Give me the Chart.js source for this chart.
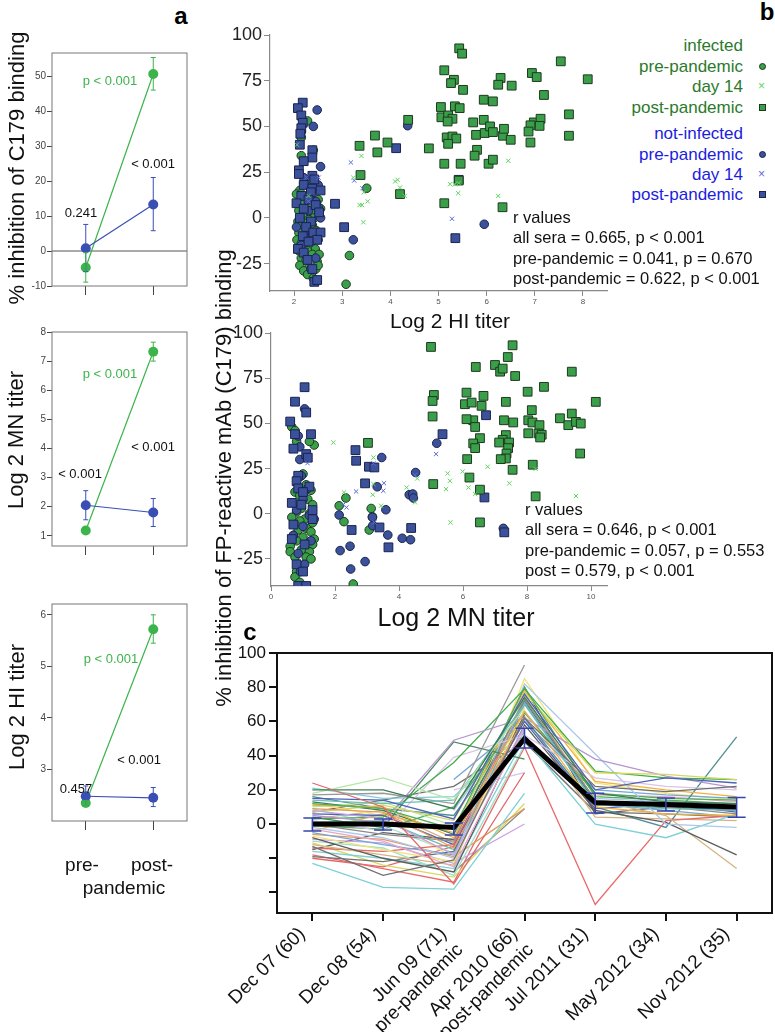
<!DOCTYPE html>
<html><head><meta charset="utf-8">
<script src="https://cdn.jsdelivr.net/npm/chart.js@4/dist/chart.umd.min.js"></script>
<style>
body{margin:0;width:775px;height:1032px;position:relative;background:#fff;font-family:"Liberation Sans",Arial,sans-serif;overflow:hidden}
canvas{position:absolute}
.t{position:absolute;white-space:nowrap;line-height:1}
</style></head><body>
<canvas id="a1" width="200" height="270" style="left:0;top:40px"></canvas>
<canvas id="a2" width="200" height="255" style="left:0;top:315px"></canvas>
<canvas id="a3" width="200" height="260" style="left:0;top:585px"></canvas>
<canvas id="b1" width="400" height="300" style="left:220px;top:20px"></canvas>
<canvas id="b2" width="400" height="300" style="left:220px;top:320px"></canvas>
<canvas id="c1" width="575" height="412" style="left:200px;top:620px"></canvas>
<script>
// ─── DATA: panel a (group means with error bars) ───────────────────
const A_GROUPS=['pre-pandemic','post-pandemic'];
const INH_NOT=[0.8,13.3],  INH_NOT_LO=[-5.9,5.8],  INH_NOT_HI=[7.6,21];
const INH_INF=[-4.7,50.6], INH_INF_LO=[-8.9,46],   INH_INF_HI=[-0.5,55.3];
const MN_NOT=[2.05,1.8],   MN_NOT_LO=[1.55,1.32],  MN_NOT_HI=[2.55,2.28];
const MN_INF=[1.18,7.32],  MN_INF_LO=[1.08,7.0],   MN_INF_HI=[1.28,7.65];
const HI_NOT=[2.48,2.45],  HI_NOT_LO=[2.3,2.28],   HI_NOT_HI=[2.68,2.65];
const HI_INF=[2.35,5.72],  HI_INF_LO=[2.3,5.45],   HI_INF_HI=[2.4,6.0];

// ─── DATA: panel b scatter, [log2 titer, % inhibition] ─────────────
const HI_INF_PRE=[[2.28,53],[2.15,47],[2.15,44],[2.4,37],[2.15,34],[2.3,20],[2.2,19],[2.35,17],[2.12,15],[2.05,13],[2.25,11],[2.4,9],[2.15,8],[2.3,6],[2.2,5],[2.1,4],[2.35,3],[2.25,2],[2.18,1],[2.42,0],[2.3,-1],[2.08,-2],[2.22,-3],[2.38,-4],[2.14,-5],[2.28,-6],[2.46,-7],[2.1,-8],[2.32,-9],[2.2,-10],[2.06,-12],[2.4,-12],[2.26,-13],[2.15,-14],[2.34,-15],[2.2,-16],[2.44,-17],[2.1,-18],[2.28,-18],[2.38,-20],[2.15,-22],[2.25,-23],[2.48,-24],[2.12,-26],[2.32,-27],[2.45,-28],[2.2,-29],[2.28,-31],[2.4,-33],[2.5,-26],[2.52,-20],[2.5,10],[2.55,5],[3.15,-20.6],[3.08,-36.3],[3.51,16.2]];
const HI_INF_D14=[[2.06,40],[2.3,12],[3.4,33.9],[3.23,22],[3.36,7],[3.41,7],[3.45,14],[3.53,9],[3.44,-2.4],[4.1,19.9],[4.15,20.8],[4.2,16.6],[4.3,12],[5.24,18.4],[5.34,18.4],[5.42,19],[5.41,13.5],[6.24,12],[6.45,31.2]];
const HI_INF_POST=[[4.37,53.6],[3.68,45],[3.94,41.2],[3.73,35.8],[3.36,39.4],[3.38,23.4],[4.2,13],[4.8,38],[5.12,80.7],[5.43,92.7],[5.49,89.8],[5.32,75.5],[5.26,73.7],[5.51,70],[5.05,60.6],[5.34,61],[5.44,60],[5.06,55],[5.2,56],[5.29,54.2],[5.19,52.7],[5.17,44],[5.29,44.5],[5.37,43.4],[5.2,40.5],[5.12,29.6],[5.46,29.6],[5.42,20.4],[5.12,8],[5.72,52.2],[5.94,53.6],[5.78,45.4],[5.96,46.4],[5.8,37.2],[5.75,34],[6.13,63.7],[5.94,64.6],[6.07,50],[6.13,46.9],[6.04,29.6],[6.13,31.8],[6.34,44.9],[6.36,48.7],[6.5,42.7],[6.29,76.5],[6.24,72.8],[6.52,72.3],[6.33,5.8],[7.54,85.6],[6.94,79.2],[7.04,77],[8.1,75.8],[7.19,67.2],[7.71,56.6],[7.71,44.9],[6.98,52.2],[7.12,54.2],[7.1,50.3],[6.91,50.6],[6.87,47.2],[6.91,41.2]];
const HI_NOT_PRE=[[2.48,59],[2.4,50],[2.55,28],[2.2,22],[2.5,18],[2.35,14],[2.45,9],[2.5,6],[2.3,4],[2.55,0],[2.05,-5],[2.38,-8],[2.22,-10],[2.5,-12],[2.15,-15],[2.45,-22],[2.35,-28],[3.23,-12],[4.36,50.4],[5.95,-3.5]];
const HI_NOT_D14=[[2.26,22],[2.51,22],[2.3,9],[3.18,30.3],[3.25,20.4],[3.42,16.2],[5.28,-0.5]];
const HI_NOT_POST=[[2.18,63],[2.08,60],[2.15,56],[2.18,52],[2.15,49],[2.13,46],[2.12,40],[2.38,37],[2.38,33],[2.2,31],[2.1,26],[2.1,24],[2.38,23],[2.42,21],[2.2,18],[2.38,16],[2.55,15],[2.35,14],[2.15,12],[2.3,10],[2.05,8],[2.45,7],[2.2,5],[2.52,3],[2.12,0],[2.35,-2],[2.25,-5],[2.4,-8],[2.55,-8],[2.18,-10],[2.48,-12],[2.3,-13],[2.08,-17],[2.2,-19],[2.28,-23],[2.38,-28],[2.42,-35],[2.48,-34],[2.85,7.7],[3.04,-5.1],[4.12,38.1],[5.35,-11.1],[5.42,20.8]];

const MN_INF_PRE=[[0.65,48],[0.75,46],[0.8,40],[1.35,38],[1.2,40],[1.0,22],[0.85,20],[1.1,16],[0.75,12],[1.25,13],[0.9,10],[1.15,8],[0.7,6],[1.3,5],[0.95,3],[0.8,1],[1.2,0],[0.65,-2],[1.05,-3],[0.9,-4],[1.3,-5],[0.75,-6],[1.1,-8],[0.85,-9],[1.25,-10],[0.7,-12],[1.0,-13],[1.35,-14],[0.8,-15],[1.15,-17],[0.6,-18],[1.3,-17],[0.95,-20],[0.6,-21],[1.2,-21],[0.75,-24],[1.1,-24],[1.25,-25],[0.85,-28],[1.0,-30],[0.8,-32],[0.75,-35],[0.9,-38],[2.13,4.4],[2.34,8.7],[2.28,-4.4],[2.57,-38.9],[3.13,2.9],[3.17,-1.7],[3.07,-9]];
const MN_INF_D14=[[1.95,39.4],[2.28,11.8],[3.2,31.1],[3.18,10.5],[3.44,4.4],[3.2,16.4],[4.24,14.5],[4.5,6.3],[4.57,19.5],[5.52,22.3],[5.59,18.2],[5.47,13.6],[5.61,-4.8],[5.99,23.4],[6.17,14.5],[6.38,10.9],[6.77,26],[7.45,16.8],[8.27,24.8],[9.53,9.8]];
const MN_INF_POST=[[5.0,92.3],[5.09,65.7],[5.05,62.4],[5.05,53.8],[6.4,81.2],[6.11,67],[6.06,60.6],[6.27,61.5],[6.58,59.7],[6.64,65.2],[6.32,51.7],[6.38,48],[6.11,52.3],[6.53,41.8],[6.32,38.9],[6.38,36.3],[6.13,30.2],[6.2,20],[6.53,13.3],[5.07,16.4],[3.03,39.2],[6.53,-4.8],[7.0,82.3],[7.16,78.6],[7.24,80.3],[7.4,86.7],[7.55,93.2],[7.63,76.2],[7.34,61.9],[7.28,51.7],[7.57,50.5],[7.34,43.5],[7.24,40.9],[7.13,39.4],[7.44,39.4],[7.41,36.3],[7.36,33.3],[7.34,30.6],[7.18,30.2],[7.55,24.3],[8.02,67.5],[8.53,70.2],[9.4,78.6],[10.15,61.9],[8.15,57.3],[9.4,55.4],[9.03,52.8],[9.29,49],[9.53,50.8],[9.68,49.9],[8.04,51.7],[8.17,50.5],[8.04,44.5],[8.39,49],[8.36,44.4],[8.46,43.7],[8.41,42.2],[9.66,33.3],[8.18,27.1],[8.27,9.6]];
const MN_NOT_PRE=[[1.05,58],[0.85,43],[0.9,37],[0.9,30],[0.95,21],[1.15,14],[1.0,8],[0.8,2],[1.2,-1],[1.3,-2],[1.35,-3],[1.0,-7],[0.7,-12],[1.25,-15],[0.85,-22],[1.05,-28],[0.92,-32],[2.13,-0.7],[2.16,-20.4],[2.49,-30.6],[2.47,-18],[2.94,-26.5],[3.17,-2],[3.18,-6.6],[3.32,14.9],[3.46,31.1],[3.59,2.2],[3.65,-11.8],[4.1,-13.6],[4.36,-14.4],[4.32,10.5],[4.43,10.9],[4.45,8.7],[4.52,22.8],[5.18,39],[7.26,-8.1]];
const MN_NOT_D14=[[1.14,28],[2.26,5],[2.36,3.5],[2.66,12.3],[3.2,27.8],[3.23,-4.8],[3.53,16.9],[3.51,12.7],[4.5,21.5],[5.16,33]];
const MN_NOT_POST=[[1.05,70],[0.75,62],[1.1,56],[0.6,51],[1.25,44],[0.75,44],[0.7,36],[1.1,33],[1.15,31],[0.85,21],[0.8,18],[1.2,15],[0.85,14],[1.0,12],[0.65,6],[0.95,5],[1.3,2],[1.3,-3],[0.7,-6],[0.65,-14],[1.05,-17],[0.8,-28],[1.0,-32],[0.85,-40],[1.1,-40],[2.64,35.2],[2.66,29.3],[3.06,26],[3.23,25.6],[2.94,16.8],[2.52,-9],[3.39,-7.6],[3.67,-18.6],[4.38,-7.9],[5.36,44],[6.72,54.5],[6.67,9],[7.29,-10.3]];

// ─── DATA: panel c (individual sera over time) ─────────────────────
const TIMEPOINTS=['Dec 07 (60)','Dec 08 (54)',['Jun 09 (71)','pre-pandemic'],['Apr 2010 (66)','post-pandemic'],'Jul 2011 (31)','May 2012 (34)','Nov 2012 (35)'];
const MEAN=[0,0,-2,50,12.5,11.5,10];
const MEAN_LO=[-4,-3.5,-6.4,44.5,6.5,7.6,4];
const MEAN_HI=[3.5,3,0.6,56,18,15.2,15.5];
const SERA=[
 [24,10,-35,30,null,null,null],
 [-23,-37,-38,18,null,null,null],
 [-13,-30,-21,62,22,19,22],
 [20,20,9,74,18,13,12],
 [18,27,14,68,null,null,null],
 [15,14,3,76,20,27,24],
 [14,12,14,70,12,9,8],
 [12,9,-3,80,16,14,12],
 [11,10,-8,66,10,6,5],
 [9,7,-14,62,null,null,null],
 [8,3,-18,57,null,null,null],
 [7,11,2,77,30,29,26],
 [5,1,49,62,38,28,21],
 [4,-2,48,38,null,null,null],
 [3,4,36,79,31,27,26],
 [2,-4,39,52,27,22,20],
 [0,-6,-10,73,14,10,6],
 [-2,-8,-20,82,41,0,-2],
 [-3,-10,-25,56,null,null,null],
 [-5,-12,-18,71,12,8,4],
 [-7,-15,-22,67,null,null,null],
 [-8,-20,-28,58,8,1,-18],
 [-10,-14,-30,46,null,null,null],
 [-12,-18,-24,75,14,5,-26],
 [-14,-16,-12,70,null,null,null],
 [-16,-20,-26,50,0,-8,6],
 [-19,-22,-16,64,null,null,null],
 [13,8,-6,72,13,11,9],
 [10,13,-1,69,null,null,null],
 [6,5,-12,60,9,12,7],
 [1,2,-15,54,null,null,null],
 [-1,-3,10,65,18,15,14],
 [-4,6,-5,78,25,20,16],
 [-6,-9,-19,9,null,null,null],
 [-9,-11,-23,0,null,null,null],
 [-11,-24,-31,12,null,null,null],
 [-18,-26,-34,45,-47,2,5],
 [16,9,5,62,10,-2,51],
 [17,18,12,93,null,null,null],
 [null,null,20,30,null,null,null],
 [null,null,-28,9,null,null,null],
 [null,null,8,66,15,13,11],
 [null,null,-9,70,17,16,13],
 [null,null,26,60,20,17,15],
 [12,5,-20,85,24,18,14],
 [-15,-5,-9,80,6,10,8],
 [9,-1,-17,75,11,12,10],
 [3,8,-11,63,4,3,2],
 [-20,-25,-13,72,null,null,null],
 [21,15,16,55,null,null,null],
 [7,14,22,48,7,6,4]
];

// ─── STYLE ──────────────────────────────────────────────────────────
const GREEN='#3cb44b', BLUE='#3a4fb4';
const G_FILL='#3a9e4a', G_EDGE='#1d3a1d', B_FILL='#3b5199', B_EDGE='#1a2350', G_X='#5fd35f', B_X='#5a6ad8';
const PALETTE=['#e06868','#7dd0d6','#707070','#3f7d57','#b5e6a5','#4c63b8','#6bbfb5','#4fae5c','#f0b040','#e39b5a','#c9a3e6','#d8d860','#b596cf','#4a8a60','#3fae49','#d8c4e8','#8a8a8a','#a9c8ec','#e7a6c8','#73a6d9','#f4e27a','#5c5c5c','#9fdfc8','#d4b483'];
const OVERRIDE={36:'#e86a6a',37:'#4f8f96',38:'#999999'};
Chart.defaults.font.family='"Liberation Sans", Arial, sans-serif';

// ─── PLUGINS ────────────────────────────────────────────────────────
const frame={id:'frame',afterDraw(chart,args,o){
  const a=chart.chartArea,ctx=chart.ctx;ctx.save();ctx.strokeStyle=o.color;ctx.lineWidth=o.width;
  ctx.strokeRect(a.left,a.top,a.right-a.left,a.bottom-a.top);ctx.restore();}};
const zeroLine={id:'zeroLine',beforeDatasetsDraw(chart,args,o){
  if(!o.on) return;
  const a=chart.chartArea,ctx=chart.ctx,y=chart.scales.y.getPixelForValue(0);
  ctx.save();ctx.strokeStyle='#555';ctx.lineWidth=1;ctx.beginPath();ctx.moveTo(a.left,y);ctx.lineTo(a.right,y);ctx.stroke();ctx.restore();}};
const errBars={id:'errBars',afterDatasetsDraw(chart,args,o){
  const ctx=chart.ctx,ys=chart.scales.y;
  (o.bars||[]).forEach(b=>{
    const meta=chart.getDatasetMeta(b.ds);
    ctx.save();ctx.strokeStyle=b.color;ctx.lineWidth=b.width;
    meta.data.forEach((pt,i)=>{
      const y1=ys.getPixelForValue(b.lo[i]),y2=ys.getPixelForValue(b.hi[i]),x=pt.x,c=b.cap;
      ctx.beginPath();ctx.moveTo(x,y1);ctx.lineTo(x,y2);
      ctx.moveTo(x-c,y1);ctx.lineTo(x+c,y1);ctx.moveTo(x-c,y2);ctx.lineTo(x+c,y2);ctx.stroke();
    });
    ctx.restore();
  });}};

// ─── PANEL a ────────────────────────────────────────────────────────
function panelA(id,not,notLo,notHi,inf,infLo,infHi,min,max,ticks,zero,padTop){
  new Chart(document.getElementById(id),{
    type:'line',
    data:{labels:A_GROUPS,datasets:[
      {data:not,borderColor:BLUE,backgroundColor:BLUE,borderWidth:1.2,pointRadius:5,pointBorderWidth:0},
      {data:inf,borderColor:GREEN,backgroundColor:GREEN,borderWidth:1.2,pointRadius:5,pointBorderWidth:0}]},
    options:{responsive:false,animation:false,layout:{padding:{top:padTop,right:13,left:0,bottom:0}},
      plugins:{legend:{display:false},tooltip:{enabled:false},frame:{color:'#777',width:1},zeroLine:{on:zero},
        errBars:{bars:[{ds:0,lo:notLo,hi:notHi,color:BLUE,width:1,cap:2.5},{ds:1,lo:infLo,hi:infHi,color:GREEN,width:1,cap:2.5}]}},
      scales:{
        x:{offset:true,grid:{drawOnChartArea:false,tickLength:9,color:'#444'},border:{display:false},ticks:{callback:()=>''},afterFit:s=>{s.height=24}},
        y:{min,max,afterBuildTicks:s=>{s.ticks=ticks.map(v=>({value:v}))},grid:{drawOnChartArea:false,tickLength:5,color:'#444'},border:{display:false},
           ticks:{font:{size:10},color:'#444',padding:1},afterFit:s=>{s.width=52}}}},
    plugins:[frame,zeroLine,errBars]});
}
panelA('a1',INH_NOT,INH_NOT_LO,INH_NOT_HI,INH_INF,INH_INF_LO,INH_INF_HI,-10,56.6,[-10,0,10,20,30,40,50],true,13);
panelA('a2',MN_NOT,MN_NOT_LO,MN_NOT_HI,MN_INF,MN_INF_LO,MN_INF_HI,0.65,8,[1,2,3,4,5,6,7,8],false,17);
panelA('a3',HI_NOT,HI_NOT_LO,HI_NOT_HI,HI_INF,HI_INF_LO,HI_INF_HI,2,6.21,[3,4,5,6],false,19);

// ─── PANEL b ────────────────────────────────────────────────────────
const pts=a=>a.map(([x,y])=>({x,y}));
function panelB(id,sets,xmin,xmax,xticks,pad,xh){
  const circ=(d,f,e)=>({data:pts(d),pointStyle:'circle',pointRadius:4.3,backgroundColor:f,borderColor:e,borderWidth:1});
  const sq=(d,f,e)=>({data:pts(d),pointStyle:'rect',pointRadius:6.2,backgroundColor:f,borderColor:e,borderWidth:1});
  const cross=(d,c)=>({data:pts(d),pointStyle:'crossRot',pointRadius:3,borderColor:c,borderWidth:1});
  new Chart(document.getElementById(id),{
    type:'scatter',
    data:{datasets:[cross(sets[1],G_X),cross(sets[4],B_X),sq(sets[2],G_FILL,G_EDGE),sq(sets[5],B_FILL,B_EDGE),circ(sets[3],B_FILL,B_EDGE),circ(sets[0],G_FILL,G_EDGE)]},
    options:{responsive:false,animation:false,layout:{padding:pad},
      plugins:{legend:{display:false},tooltip:{enabled:false}},
      scales:{
        x:{type:'linear',min:xmin,max:xmax,afterBuildTicks:s=>{s.ticks=xticks.map(v=>({value:v}))},grid:{drawOnChartArea:false,tickLength:5,color:'#888'},
           border:{display:true,color:'#888',width:1.2},ticks:{font:{size:8},color:'#555',padding:1},afterFit:s=>{s.height=xh}},
        y:{min:-40,max:100,afterBuildTicks:s=>{s.ticks=[-25,0,25,50,75,100].map(v=>({value:v}))},grid:{drawOnChartArea:false,tickLength:6,color:'#888'},
           border:{display:true,color:'#888',width:1.2},ticks:{font:{size:18},color:'#222',padding:2},afterFit:s=>{s.width=50}}}}});
}
panelB('b1',[HI_INF_PRE,HI_INF_D14,HI_INF_POST,HI_NOT_PRE,HI_NOT_D14,HI_NOT_POST],1.5,8.5,[2,3,4,5,6,7,8],{top:15,right:13,left:0,bottom:0},29);
panelB('b2',[MN_INF_PRE,MN_INF_D14,MN_INF_POST,MN_NOT_PRE,MN_NOT_D14,MN_NOT_POST],0,10.5,[0,2,4,6,8,10],{top:13,right:13,left:1,bottom:0},34);

// ─── PANEL c ────────────────────────────────────────────────────────
const cSets=[{data:MEAN,borderColor:'#000',borderWidth:5,pointRadius:0}].concat(
  SERA.map((d,i)=>({data:d,borderColor:OVERRIDE[i]||PALETTE[i%PALETTE.length],borderWidth:1.3,pointRadius:0,spanGaps:false})));
new Chart(document.getElementById('c1'),{
  type:'line',
  data:{labels:TIMEPOINTS,datasets:cSets},
  options:{responsive:false,animation:false,layout:{padding:{top:33,right:3,left:0,bottom:0}},
    plugins:{legend:{display:false},tooltip:{enabled:false},frame:{color:'#111',width:2},
      errBars:{bars:[{ds:0,lo:MEAN_LO,hi:MEAN_HI,color:'#3444b0',width:1.5,cap:9}]}},
    scales:{
      x:{offset:true,grid:{drawOnChartArea:false,tickLength:8,color:'#111',lineWidth:2},border:{display:false},
         ticks:{autoSkip:false,maxRotation:45,minRotation:45,labelOffset:-10,font:{size:19},color:'#111',padding:2},afterFit:s=>{s.height=119}},
      y:{min:-52,max:100,afterBuildTicks:s=>{s.ticks=[-40,-20,0,20,40,60,80,100].map(v=>({value:v}))},
         grid:{drawOnChartArea:false,tickLength:8,color:'#111',lineWidth:2},border:{display:false},
         ticks:{callback:v=>v<0?'':v,font:{size:17},color:'#111',padding:3},afterFit:s=>{s.width=77}}}},
  plugins:[frame,errBars]});

// ─── TEXT ───────────────────────────────────────────────────────────
function txt(s,x,y,size,color,o={}){
  const d=document.createElement('div');d.className='t';d.textContent=s;
  d.style.left=x+'px';d.style.top=y+'px';d.style.fontSize=size+'px';d.style.color=color||'#111';
  if(o.bold) d.style.fontWeight='bold';
  const ax=o.align==='r'?'-100%':o.align==='l'?'0':'-50%';
  d.style.transform='translate('+ax+',-50%)';
  if(o.rot){d.style.transform='translate(-50%,-50%) rotate(-90deg)';}
  document.body.appendChild(d);
}
txt('a',181,16,24,'#000',{bold:true});
txt('b',767,12,24,'#000',{bold:true});
txt('c',250,632,24,'#000',{bold:true});
txt('% inhibition of C179 binding',17,168,22,'#111',{rot:true});
txt('Log 2 MN titer',16,440,22,'#111',{rot:true});
txt('Log 2 HI titer',17,707,22,'#111',{rot:true});
txt('% inhibition of FP-reactive mAb (C179) binding',224,478,22,'#111',{rot:true});
txt('p < 0.001',110,80,13,GREEN);txt('< 0.001',153,163,13,'#111');txt('0.241',81,212,13,'#111');
txt('p < 0.001',110,373,13,GREEN);txt('< 0.001',153,446,13,'#111');txt('< 0.001',80,473,13,'#111');
txt('p < 0.001',111,658,13,GREEN);txt('< 0.001',139,759,13,'#111');txt('0.457',76,788,13,'#111');
txt('pre-',82,864,19,'#111');txt('post-',152,864,19,'#111');txt('pandemic',124,887,19,'#111');
txt('Log 2 HI titer',450,320,21,'#111');
txt('Log 2 MN titer',456,617,25,'#111');
const LG='#2b7a2b',LB='#1c1ce0';
[['infected',45,LG],['pre-pandemic',66,LG],['day 14',86,LG],['post-pandemic',107,LG],
 ['not-infected',133,LB],['pre-pandemic',154,LB],['day 14',174,LB],['post-pandemic',194,LB]].forEach(([s,y,c])=>txt(s,743,y,17,c,{align:'r'}));
['r values','all sera = 0.665, p < 0.001','pre-pandemic = 0.041, p = 0.670','post-pandemic = 0.622, p < 0.001'].forEach((s,i)=>txt(s,513,217+i*20.3,16.5,'#111',{align:'l'}));
['r values','all sera = 0.646, p < 0.001','pre-pandemic = 0.057, p = 0.553','post = 0.579, p < 0.001'].forEach((s,i)=>txt(s,525,509+i*20.3,16.5,'#111',{align:'l'}));
// legend markers
function mark(kind,x,y,fill,edge){
  const d=document.createElement('div');d.style.position='absolute';
  if(kind==='x'){d.textContent='×';d.style.cssText+='left:'+(x-4)+'px;top:'+(y-7)+'px;font-size:12px;line-height:14px;color:'+fill;}
  else{d.style.cssText+='left:'+(x-3.5)+'px;top:'+(y-3.5)+'px;width:7px;height:7px;box-sizing:border-box;background:'+fill+';border:1px solid '+edge+';'+(kind==='o'?'border-radius:50%':'');}
  document.body.appendChild(d);
}
mark('o',762,66,G_FILL,G_EDGE);mark('x',762,86,G_X);mark('s',762,107,G_FILL,G_EDGE);
mark('o',762,154,B_FILL,B_EDGE);mark('x',762,174,B_X);mark('s',762,194,B_FILL,B_EDGE);
</script>
</body></html>
